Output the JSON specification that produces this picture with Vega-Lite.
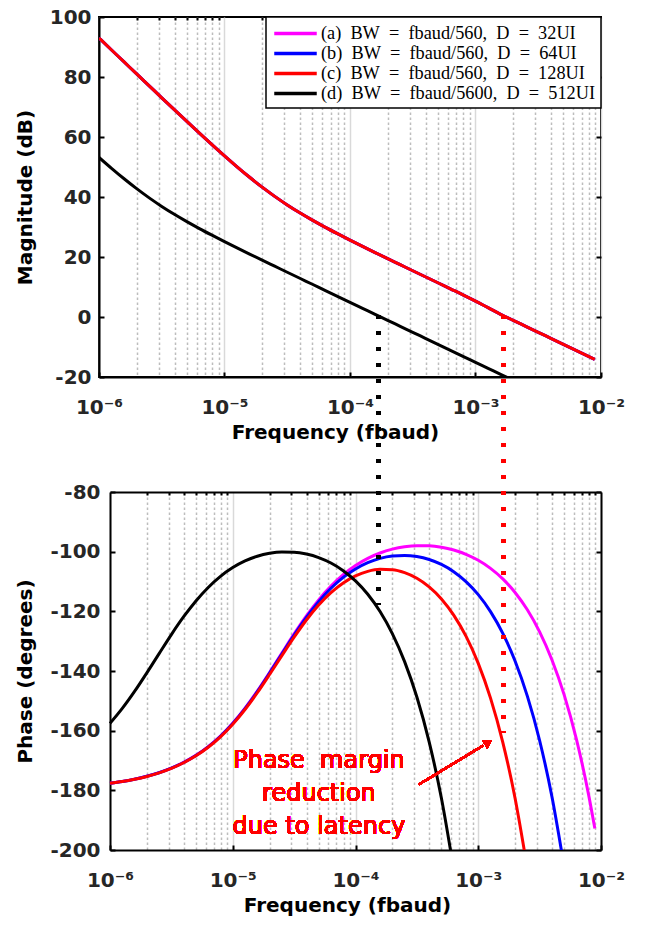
{
  "$schema": "https://vega.github.io/schema/vega-lite/v6.json",
  "background": "white",
  "padding": {"left": 14, "top": 6, "right": 10, "bottom": 5},
  "spacing": -130,
  "resolve": {"scale": {"x": "independent", "y": "independent", "color": "independent"}, "legend": {"color": "independent"}},
  "data": {"values": [
    {"f":1e-6,"s":"a","m":93.01,"p":-177.62},{"f":1.259e-6,"s":"a","m":89.01,"p":-177.01},{"f":1.585e-6,"s":"a","m":85.02,"p":-176.24},{"f":1.995e-6,"s":"a","m":81.03,"p":-175.27},{"f":2.512e-6,"s":"a","m":77.05,"p":-174.06},{"f":3.162e-6,"s":"a","m":73.07,"p":-172.54},{"f":3.981e-6,"s":"a","m":69.12,"p":-170.63},{"f":5.012e-6,"s":"a","m":65.19,"p":-168.27},{"f":6.31e-6,"s":"a","m":61.29,"p":-165.34},{"f":7.943e-6,"s":"a","m":57.45,"p":-161.78},
    {"f":1e-5,"s":"a","m":53.70,"p":-157.50},{"f":1.259e-5,"s":"a","m":50.06,"p":-152.47},{"f":1.585e-5,"s":"a","m":46.57,"p":-146.74},{"f":1.995e-5,"s":"a","m":43.28,"p":-140.49},{"f":2.512e-5,"s":"a","m":40.21,"p":-133.99},{"f":3.162e-5,"s":"a","m":37.37,"p":-127.56},{"f":3.981e-5,"s":"a","m":34.74,"p":-121.54},{"f":5.012e-5,"s":"a","m":32.29,"p":-116.17},{"f":6.31e-5,"s":"a","m":29.98,"p":-111.56},{"f":7.943e-5,"s":"a","m":27.78,"p":-107.73},
    {"f":1e-4,"s":"a","m":25.64,"p":-104.65},{"f":1.259e-4,"s":"a","m":23.55,"p":-102.24},{"f":1.585e-4,"s":"a","m":21.49,"p":-100.44},{"f":1.995e-4,"s":"a","m":19.46,"p":-99.16},{"f":2.512e-4,"s":"a","m":17.44,"p":-98.35},{"f":3.162e-4,"s":"a","m":15.42,"p":-97.98},{"f":3.981e-4,"s":"a","m":13.41,"p":-98.04},{"f":5.012e-4,"s":"a","m":11.41,"p":-98.51},{"f":6.31e-4,"s":"a","m":9.40,"p":-99.45},{"f":7.943e-4,"s":"a","m":7.40,"p":-100.88},
    {"f":1e-3,"s":"a","m":5.30,"p":-102.89},{"f":1.259e-3,"s":"a","m":3.10,"p":-105.59},{"f":1.585e-3,"s":"a","m":0.90,"p":-109.13},{"f":1.995e-3,"s":"a","m":-1.10,"p":-113.68},{"f":2.512e-3,"s":"a","m":-3.10,"p":-119.49},{"f":3.162e-3,"s":"a","m":-5.10,"p":-126.86},{"f":3.981e-3,"s":"a","m":-7.10,"p":-136.21},{"f":5.012e-3,"s":"a","m":-9.10,"p":-148.01},{"f":6.31e-3,"s":"a","m":-11.10,"p":-162.91},{"f":7.943e-3,"s":"a","m":-13.10,"p":-181.68},{"f":8.913e-3,"s":"a","m":-14.10,"p":-192.82},

    {"f":1e-6,"s":"b","m":93.01,"p":-177.63},{"f":1.259e-6,"s":"b","m":89.01,"p":-177.03},{"f":1.585e-6,"s":"b","m":85.02,"p":-176.26},{"f":1.995e-6,"s":"b","m":81.03,"p":-175.30},{"f":2.512e-6,"s":"b","m":77.05,"p":-174.09},{"f":3.162e-6,"s":"b","m":73.07,"p":-172.57},{"f":3.981e-6,"s":"b","m":69.12,"p":-170.67},{"f":5.012e-6,"s":"b","m":65.19,"p":-168.33},{"f":6.31e-6,"s":"b","m":61.29,"p":-165.42},{"f":7.943e-6,"s":"b","m":57.45,"p":-161.87},
    {"f":1e-5,"s":"b","m":53.70,"p":-157.61},{"f":1.259e-5,"s":"b","m":50.06,"p":-152.61},{"f":1.585e-5,"s":"b","m":46.57,"p":-146.93},{"f":1.995e-5,"s":"b","m":43.28,"p":-140.72},{"f":2.512e-5,"s":"b","m":40.21,"p":-134.28},{"f":3.162e-5,"s":"b","m":37.37,"p":-127.93},{"f":3.981e-5,"s":"b","m":34.74,"p":-122.00},{"f":5.012e-5,"s":"b","m":32.29,"p":-116.74},{"f":6.31e-5,"s":"b","m":29.98,"p":-112.28},{"f":7.943e-5,"s":"b","m":27.78,"p":-108.64},
    {"f":1e-4,"s":"b","m":25.64,"p":-105.80},{"f":1.259e-4,"s":"b","m":23.55,"p":-103.69},{"f":1.585e-4,"s":"b","m":21.49,"p":-102.26},{"f":1.995e-4,"s":"b","m":19.46,"p":-101.46},{"f":2.512e-4,"s":"b","m":17.44,"p":-101.25},{"f":3.162e-4,"s":"b","m":15.42,"p":-101.63},{"f":3.981e-4,"s":"b","m":13.41,"p":-102.62},{"f":5.012e-4,"s":"b","m":11.41,"p":-104.29},{"f":6.31e-4,"s":"b","m":9.40,"p":-106.72},{"f":7.943e-4,"s":"b","m":7.40,"p":-110.03},
    {"f":1e-3,"s":"b","m":5.30,"p":-114.41},{"f":1.259e-3,"s":"b","m":3.10,"p":-120.10},{"f":1.585e-3,"s":"b","m":0.90,"p":-127.39},{"f":1.995e-3,"s":"b","m":-1.10,"p":-136.66},{"f":2.512e-3,"s":"b","m":-3.10,"p":-148.43},{"f":3.162e-3,"s":"b","m":-5.10,"p":-163.29},{"f":3.981e-3,"s":"b","m":-7.10,"p":-182.07},{"f":5.012e-3,"s":"b","m":-9.10,"p":-205.74},{"f":6.31e-3,"s":"b","m":-11.10,"p":null},{"f":7.943e-3,"s":"b","m":-13.10,"p":null},{"f":8.913e-3,"s":"b","m":-14.10,"p":null},

    {"f":1e-6,"s":"c","m":93.01,"p":-177.66},{"f":1.259e-6,"s":"c","m":89.01,"p":-177.06},{"f":1.585e-6,"s":"c","m":85.02,"p":-176.29},{"f":1.995e-6,"s":"c","m":81.03,"p":-175.34},{"f":2.512e-6,"s":"c","m":77.05,"p":-174.15},{"f":3.162e-6,"s":"c","m":73.07,"p":-172.65},{"f":3.981e-6,"s":"c","m":69.12,"p":-170.76},{"f":5.012e-6,"s":"c","m":65.19,"p":-168.44},{"f":6.31e-6,"s":"c","m":61.29,"p":-165.56},{"f":7.943e-6,"s":"c","m":57.45,"p":-162.06},
    {"f":1e-5,"s":"c","m":53.70,"p":-157.84},{"f":1.259e-5,"s":"c","m":50.06,"p":-152.90},{"f":1.585e-5,"s":"c","m":46.57,"p":-147.29},{"f":1.995e-5,"s":"c","m":43.28,"p":-141.18},{"f":2.512e-5,"s":"c","m":40.21,"p":-134.86},{"f":3.162e-5,"s":"c","m":37.37,"p":-128.66},{"f":3.981e-5,"s":"c","m":34.74,"p":-122.91},{"f":5.012e-5,"s":"c","m":32.29,"p":-117.90},{"f":6.31e-5,"s":"c","m":29.98,"p":-113.74},{"f":7.943e-5,"s":"c","m":27.78,"p":-110.47},
    {"f":1e-4,"s":"c","m":25.64,"p":-108.11},{"f":1.259e-4,"s":"c","m":23.55,"p":-106.59},{"f":1.585e-4,"s":"c","m":21.49,"p":-105.91},{"f":1.995e-4,"s":"c","m":19.46,"p":-106.05},{"f":2.512e-4,"s":"c","m":17.44,"p":-107.04},{"f":3.162e-4,"s":"c","m":15.42,"p":-108.91},{"f":3.981e-4,"s":"c","m":13.41,"p":-111.80},{"f":5.012e-4,"s":"c","m":11.41,"p":-115.84},{"f":6.31e-4,"s":"c","m":9.40,"p":-121.26},{"f":7.943e-4,"s":"c","m":7.40,"p":-128.33},
    {"f":1e-3,"s":"c","m":5.30,"p":-137.45},{"f":1.259e-3,"s":"c","m":3.10,"p":-149.10},{"f":1.585e-3,"s":"c","m":0.90,"p":-163.90},{"f":1.995e-3,"s":"c","m":-1.10,"p":-182.63},{"f":2.512e-3,"s":"c","m":-3.10,"p":-206.30},{"f":3.162e-3,"s":"c","m":-5.10,"p":null},{"f":3.981e-3,"s":"c","m":-7.10,"p":null},{"f":5.012e-3,"s":"c","m":-9.10,"p":null},{"f":6.31e-3,"s":"c","m":-11.10,"p":null},{"f":7.943e-3,"s":"c","m":-13.10,"p":null},{"f":8.913e-3,"s":"c","m":-14.10,"p":null},

    {"f":1e-6,"s":"d","m":53.20,"p":-157.56},{"f":1.259e-6,"s":"d","m":49.56,"p":-152.55},{"f":1.585e-6,"s":"d","m":46.07,"p":-146.85},{"f":1.995e-6,"s":"d","m":42.78,"p":-140.63},{"f":2.512e-6,"s":"d","m":39.71,"p":-134.16},{"f":3.162e-6,"s":"d","m":36.87,"p":-127.78},{"f":3.981e-6,"s":"d","m":34.24,"p":-121.81},{"f":5.012e-6,"s":"d","m":31.79,"p":-116.51},{"f":6.31e-6,"s":"d","m":29.48,"p":-111.99},{"f":7.943e-6,"s":"d","m":27.28,"p":-108.27},
    {"f":1e-5,"s":"d","m":25.14,"p":-105.34},{"f":1.259e-5,"s":"d","m":23.05,"p":-103.11},{"f":1.585e-5,"s":"d","m":20.99,"p":-101.53},{"f":1.995e-5,"s":"d","m":18.96,"p":-100.54},{"f":2.512e-5,"s":"d","m":16.94,"p":-100.09},{"f":3.162e-5,"s":"d","m":14.92,"p":-100.17},{"f":3.981e-5,"s":"d","m":12.91,"p":-100.79},{"f":5.012e-5,"s":"d","m":10.91,"p":-101.98},{"f":6.31e-5,"s":"d","m":8.90,"p":-103.81},{"f":7.943e-5,"s":"d","m":6.90,"p":-106.37},
    {"f":1e-4,"s":"d","m":4.90,"p":-109.80},{"f":1.259e-4,"s":"d","m":2.90,"p":-114.29},{"f":1.585e-4,"s":"d","m":0.90,"p":-120.08},{"f":1.995e-4,"s":"d","m":-1.10,"p":-127.47},{"f":2.512e-4,"s":"d","m":-3.10,"p":-136.85},{"f":3.162e-4,"s":"d","m":-5.10,"p":-148.72},{"f":3.981e-4,"s":"d","m":-7.10,"p":-163.73},{"f":5.012e-4,"s":"d","m":-9.10,"p":-182.65},{"f":6.31e-4,"s":"d","m":-11.10,"p":-206.52},{"f":7.943e-4,"s":"d","m":-13.10,"p":null},
    {"f":1e-3,"s":"d","m":-15.10,"p":null},{"f":1.259e-3,"s":"d","m":-17.10,"p":null},{"f":1.585e-3,"s":"d","m":-19.10,"p":null},{"f":1.995e-3,"s":"d","m":-21.10,"p":null}
  ]},
  "vconcat": [
    {
      "width": 502,
      "height": 360,
      "resolve": {"axis": {"x": "independent", "y": "independent"}},
      "layer": [
        {
          "mark": {"type": "rule", "opacity": 0},
          "encoding": {
            "x": {"field": "f", "type": "quantitative",
              "scale": {"type": "log", "domain": [1e-6, 0.01], "nice": false},
              "axis": {"orient": "top", "title": null, "labels": false, "domain": false, "ticks": true, "tickSize": -3,
                "values": [2e-6,3e-6,4e-6,5e-6,6e-6,7e-6,8e-6,9e-6,2e-5,3e-5,4e-5,5e-5,6e-5,7e-5,8e-5,9e-5,2e-4,3e-4,4e-4,5e-4,6e-4,7e-4,8e-4,9e-4,2e-3,3e-3,4e-3,5e-3,6e-3,7e-3,8e-3,9e-3],
                "grid": true, "gridDash": [2.5, 2.5], "gridColor": "#bdbdbd", "gridWidth": 1.5}}
          }
        },
        {
          "mark": {"type": "rule", "opacity": 0},
          "encoding": {
            "y": {"field": "m", "type": "quantitative",
              "scale": {"domain": [-20, 100], "nice": false, "zero": false},
              "axis": {"orient": "right", "title": null, "labels": false, "domain": false, "ticks": true, "tickSize": -5, "grid": false,
                "values": [-20, 0, 20, 40, 60, 80, 100]}}
          }
        },
        {
          "mark": {"type": "line", "strokeWidth": 3, "clip": true, "interpolate": "monotone"},
          "encoding": {
            "x": {"field": "f", "type": "quantitative",
              "scale": {"type": "log", "domain": [1e-6, 0.01], "nice": false},
              "axis": {
                "title": "Frequency (fbaud)", "titleX": 236,
                "values": [1e-6, 1e-5, 1e-4, 1e-3, 1e-2],
                "labelExpr": "'10⁻' + ['⁰','¹','²','³','⁴','⁵','⁶'][-round(log(datum.value)/LN10)]",
                "labelFlush": false, "labelOverlap": false, "labelPadding": 25,
                "tickSize": -5, "titlePadding": 5, "grid": true}},
            "y": {"field": "m", "type": "quantitative",
              "scale": {"domain": [-20, 100], "nice": false, "zero": false},
              "axis": {"values": [-20, 0, 20, 40, 60, 80, 100], "title": "Magnitude (dB)", "tickSize": -5, "labelPadding": 13, "titlePadding": 14,
                "labelExpr": "datum.value < 0 ? '-' + (-datum.value) : '' + datum.value"}},
            "color": {"field": "s", "type": "nominal",
              "scale": {"domain": ["a", "b", "c", "d"], "range": ["#ff00ff", "#0000ff", "#ff0000", "#000000"]},
              "legend": {
                "orient": "top-right", "offset": 0, "title": null,
                "fillColor": "#ffffff", "strokeColor": "#000000", "padding": 6,
                "symbolType": "M-2.5,0H2.5", "symbolStrokeWidth": 3.5, "symbolSize": 289, "symbolOffset": 13,
                "labelFont": "Liberation Serif", "labelFontSize": 18.3, "labelColor": "#000000",
                "labelLimit": 400, "rowPadding": 1, "labelOffset": 15,
                "labelExpr": "datum.label == 'a' ? '(a)\u2002BW\u2002=\u2002fbaud/560,\u2002D\u2002=\u200232UI' : datum.label == 'b' ? '(b)\u2002BW\u2002=\u2002fbaud/560,\u2002D\u2002=\u200264UI' : datum.label == 'c' ? '(c)\u2002BW\u2002=\u2002fbaud/560,\u2002D\u2002=\u2002128UI' : '(d)\u2002BW\u2002=\u2002fbaud/5600,\u2002D\u2002=\u2002512UI'"
              }}
          }
        }
      ]
    },
    {
      "width": 502,
      "height": 358,
      "view": {"stroke": null},
      "resolve": {"axis": {"x": "independent", "y": "independent"}},
      "layer": [
        {
          "mark": {"type": "rule", "opacity": 0},
          "encoding": {
            "x": {"field": "f", "type": "quantitative",
              "scale": {"type": "log", "domain": [1e-6, 0.01], "nice": false, "range": [11, 502]},
              "axis": {"orient": "top", "title": null, "labels": false, "domain": true, "ticks": true, "tickSize": -3,
                "values": [2e-6,3e-6,4e-6,5e-6,6e-6,7e-6,8e-6,9e-6,2e-5,3e-5,4e-5,5e-5,6e-5,7e-5,8e-5,9e-5,2e-4,3e-4,4e-4,5e-4,6e-4,7e-4,8e-4,9e-4,2e-3,3e-3,4e-3,5e-3,6e-3,7e-3,8e-3,9e-3],
                "grid": true, "gridDash": [2.5, 2.5], "gridColor": "#bdbdbd", "gridWidth": 1.5}}
          }
        },
        {
          "mark": {"type": "rule", "opacity": 0},
          "encoding": {
            "y": {"field": "p", "type": "quantitative",
              "scale": {"domain": [-200, -80], "nice": false, "zero": false},
              "axis": {"orient": "right", "title": null, "labels": false, "domain": true, "ticks": true, "tickSize": -5, "grid": false,
                "values": [-200, -180, -160, -140, -120, -100, -80]}}
          }
        },
        {
          "mark": {"type": "line", "strokeWidth": 3, "clip": true, "interpolate": "monotone"},
          "encoding": {
            "x": {"field": "f", "type": "quantitative",
              "scale": {"type": "log", "domain": [1e-6, 0.01], "nice": false, "range": [11, 502]},
              "axis": {
                "title": "Frequency (fbaud)", "titleX": 248,
                "values": [1e-6, 1e-5, 1e-4, 1e-3, 1e-2],
                "labelExpr": "'10⁻' + ['⁰','¹','²','³','⁴','⁵','⁶'][-round(log(datum.value)/LN10)]",
                "labelFlush": false, "labelOverlap": false, "labelPadding": 25,
                "tickSize": -5, "titlePadding": 5, "grid": true}},
            "y": {"field": "p", "type": "quantitative",
              "scale": {"domain": [-200, -80], "nice": false, "zero": false},
              "axis": {"values": [-200, -180, -160, -140, -120, -100, -80], "title": "Phase (degrees)", "offset": -11, "tickSize": -5, "labelPadding": 15, "titlePadding": 14,
                "labelExpr": "datum.value < 0 ? '-' + (-datum.value) : '' + datum.value"}},
            "color": {"field": "s", "type": "nominal",
              "scale": {"domain": ["a", "b", "c", "d"], "range": ["#ff00ff", "#0000ff", "#ff0000", "#000000"]},
              "legend": null}
          }
        },
        {
          "mark": {"type": "rule", "color": "#000000", "strokeWidth": 4, "strokeDash": [4, 12], "clip": false},
          "encoding": {"x": {"datum": 0.000155, "type": "quantitative", "axis": null}, "y": {"datum": -20.7, "axis": null}, "y2": {"datum": -117.9}}
        },
        {
          "mark": {"type": "rule", "color": "#ff0000", "strokeWidth": 4, "strokeDash": [4, 12], "clip": false},
          "encoding": {"x": {"datum": 0.001612, "type": "quantitative", "axis": null}, "y": {"datum": -20.7, "axis": null}, "y2": {"datum": -160.5}}
        },
        {
          "mark": {"type": "rule", "color": "#ff0000", "strokeWidth": 2},
          "encoding": {"x": {"datum": 0.0003272, "type": "quantitative", "axis": null}, "y": {"datum": -178.1, "axis": null}, "x2": {"datum": 0.001102}, "y2": {"datum": -164.9}}
        },
        {
          "mark": {"type": "point", "shape": "triangle-up", "filled": true, "color": "#ff0000", "size": 100, "angle": 59, "opacity": 1},
          "encoding": {"x": {"datum": 0.001208, "type": "quantitative", "axis": null}, "y": {"datum": -163.87, "axis": null}}
        },
        {
          "mark": {"type": "text", "text": ["Phase\u00a0 margin", "reduction", "due to latency"], "font": "DejaVu Sans", "fontSize": 24, "fontWeight": "normal", "lineHeight": 33, "color": "#ff0000", "align": "center", "baseline": "middle"},
          "encoding": {"x": {"datum": 0.0000504, "type": "quantitative", "axis": null}, "y": {"datum": -170.1, "axis": null}}
        }
      ]
    }
  ],
  "config": {
    "font": "DejaVu Sans",
    "view": {"stroke": "#000000", "strokeWidth": 2},
    "axis": {
      "labelFont": "DejaVu Sans", "labelFontSize": 20, "labelFontWeight": "bold", "labelColor": "#262626",
      "titleFont": "DejaVu Sans", "titleFontSize": 20, "titleFontWeight": "bold", "titleColor": "#000000",
      "domainColor": "#000000", "domainWidth": 2, "tickColor": "#000000", "tickWidth": 2,
      "gridColor": "#d9d9d9", "gridWidth": 1.5, "gridOpacity": 1
    },
    "legend": {"strokeWidth": 1.5}
  }
}
